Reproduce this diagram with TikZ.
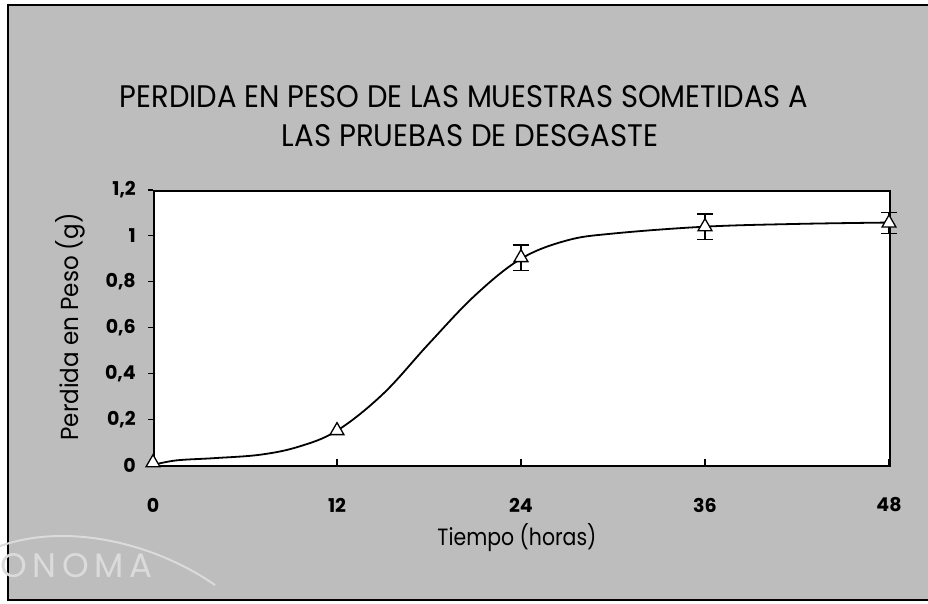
\documentclass[tikz,border=0pt]{standalone}
\usepackage{fontspec}
\setmainfont{Poppins}
\usetikzlibrary{shapes.geometric}
\definecolor{bg}{gray}{0.74}
\definecolor{wm}{gray}{0.86}
\tikzset{
  frameline/.style={line width=2pt},
  datacurve/.style={line width=1.8pt, line join=round, line cap=round},
  marker/.style={regular polygon, regular polygon sides=3, draw, line width=1.3pt, fill=white, minimum size=16pt, inner sep=0pt},
  errbar/.style={line width=1.4pt},
  ticklab/.style={font=\fontsize{19}{19}\selectfont\bfseries, inner sep=0pt},
  titlelab/.style={inner sep=0pt},
  ticksty/.style={line width=1.2pt},
}
\begin{document}
\begin{tikzpicture}[x=1pt,y=-1pt]
\useasboundingbox (0,0) rectangle (928,603);
% background
\fill[bg] (8,5) rectangle (928,600);
\draw[line width=1.5pt] (928,5) -- (8,5) -- (8,600) -- (928,600);
% watermark
\draw[wm, line width=2pt] (-5,548) .. controls (60,522) and (150,540) .. (215,585);
\node[wm, titlelab, font=\fontsize{34}{34}\selectfont, anchor=west] (wmark) at (0,566) {O\,N\,O\,M\,A};
% title
\node[titlelab] (t1) at (464,97) {\resizebox{688pt}{22pt}{PERDIDA EN PESO DE LAS MUESTRAS SOMETIDAS A}};
\node[titlelab] (t2) at (470,136) {\resizebox{376pt}{22pt}{LAS PRUEBAS DE DESGASTE}};
% plot area
\node[draw, frameline, fill=white, minimum width=736pt, minimum height=275pt, inner sep=0pt, anchor=north west] (plot) at (153,190) {};
% axis titles
\node[titlelab] (xlab) at (517,538) {\resizebox{159pt}{22pt}{Tiempo (horas)}};
\node[titlelab, rotate=90] (ylab) at (70,327) {\resizebox{227pt}{23pt}{Perdida en Peso (g)}};
\begin{scope}[shift={(153,465)}, x=15.333pt, y=229.17pt]
  % y ticks and labels
  \foreach \v/\l in {0/0, 0.2/{0,2}, 0.4/{0,4}, 0.6/{0,6}, 0.8/{0,8}, 1/1, 1.2/{1,2}} {
    \draw[ticksty] (0,\v) -- ++(-5pt,0);
    \node[ticklab, anchor=east] (y\v) at ([xshift=-17pt]0,\v) {\l};
  }
  % x ticks and labels
  \foreach \h in {0,12,24,36,48} {
    \draw[ticksty] (\h,0) -- ++(0,6pt);
    \node[ticklab] (x\h) at ([yshift=-40pt]\h,0) {\h};
  }
  % curve
  \draw[datacurve] plot[smooth, tension=0.6] coordinates {
    (0,0) (1.5,0.02) (4,0.03) (7,0.045) (9.5,0.08) (12,0.15) (15,0.31) (18,0.53) (21,0.74) (24,0.90) (27,0.98) (30,1.01) (36,1.04) (42,1.052) (48,1.058)};
  % error bars
  \foreach \h/\v/\e in {24/0.905/0.055, 36/1.04/0.055, 48/1.056/0.045} {
    \draw[errbar] (\h,\v-\e) -- (\h,\v+\e);
    \draw[errbar] (\h-0.5,\v-\e) -- (\h+0.5,\v-\e);
    \draw[errbar] (\h-0.5,\v+\e) -- (\h+0.5,\v+\e);
  }
  % markers
  \node[marker] (p0) at (0,0.01) {};
  \node[marker] (p1) at (12,0.15) {};
  \node[marker] (p2) at (24,0.905) {};
  \node[marker] (p3) at (36,1.04) {};
  \node[marker] (p4) at (48,1.056) {};
\end{scope}
\end{tikzpicture}
\end{document}
